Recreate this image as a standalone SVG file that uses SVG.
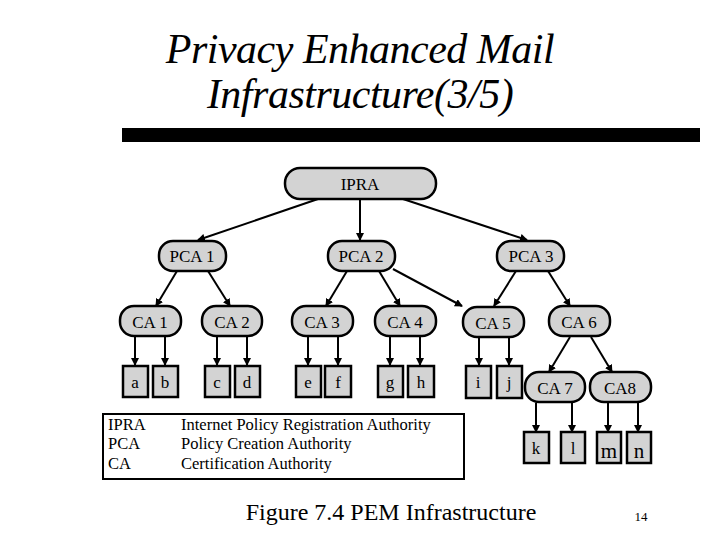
<svg xmlns="http://www.w3.org/2000/svg" width="720" height="540" viewBox="0 0 720 540">
<style>
text{font-family:"Liberation Serif","Times New Roman",serif;fill:#000}
.n rect{fill:#d3d3d3;stroke:#000;stroke-width:2.5}
.n text{font-size:17px;text-anchor:middle}
.c line{stroke:#000;stroke-width:2;marker-end:url(#ah)}
</style>
<defs><marker id="ah" markerWidth="8" markerHeight="8" refX="7" refY="4" orient="auto" markerUnits="userSpaceOnUse"><path d="M0,0 L8,4 L0,8 z" fill="#000"/></marker></defs>
<rect width="720" height="540" fill="#fff"/>
<text x="360" y="63" font-size="42" font-style="italic" text-anchor="middle" letter-spacing="-0.5">Privacy Enhanced Mail</text>
<text x="360" y="108" font-size="42" font-style="italic" text-anchor="middle" letter-spacing="-0.5">Infrastructure(3/5)</text>
<rect x="122" y="128" width="578" height="14" fill="#000"/>
<g class="c">
<line x1="318" y1="199" x2="198" y2="240"/>
<line x1="360" y1="199" x2="360" y2="240"/>
<line x1="403" y1="199" x2="527" y2="240"/>
<line x1="177" y1="271" x2="156" y2="306"/>
<line x1="208" y1="271" x2="230" y2="306"/>
<line x1="347" y1="271" x2="326" y2="306"/>
<line x1="379" y1="271" x2="400" y2="306"/>
<line x1="393" y1="269" x2="462" y2="306"/>
<line x1="516" y1="271" x2="494" y2="306"/>
<line x1="548" y1="271" x2="570" y2="306"/>
<line x1="135" y1="337" x2="135" y2="365"/>
<line x1="165" y1="337" x2="165" y2="365"/>
<line x1="217" y1="337" x2="217" y2="365"/>
<line x1="247" y1="337" x2="247" y2="365"/>
<line x1="308" y1="337" x2="308" y2="365"/>
<line x1="338" y1="337" x2="338" y2="365"/>
<line x1="390" y1="337" x2="390" y2="365"/>
<line x1="420" y1="337" x2="420" y2="365"/>
<line x1="479" y1="337" x2="479" y2="365"/>
<line x1="509" y1="337" x2="509" y2="365"/>
<line x1="570" y1="337" x2="549" y2="372"/>
<line x1="591" y1="337" x2="612" y2="372"/>
<line x1="536" y1="403" x2="536" y2="432"/>
<line x1="572" y1="403" x2="572" y2="432"/>
<line x1="608" y1="403" x2="608" y2="432"/>
<line x1="638" y1="403" x2="638" y2="432"/>
</g>
<g id="IPRA" class="n"><rect x="285" y="168" width="151" height="31" rx="15"/><text x="360" y="190">IPRA</text></g>
<g id="PCA1" class="n"><rect x="159" y="241" width="67" height="30" rx="14"/><text x="192" y="262">PCA 1</text></g>
<g id="PCA2" class="n"><rect x="328" y="241" width="67" height="30" rx="14"/><text x="361" y="262">PCA 2</text></g>
<g id="PCA3" class="n"><rect x="497" y="241" width="67" height="30" rx="14"/><text x="531" y="262">PCA 3</text></g>
<g id="CA1" class="n"><rect x="120" y="306" width="61" height="30" rx="14"/><text x="150" y="328">CA 1</text></g>
<g id="CA2" class="n"><rect x="202" y="306" width="60" height="30" rx="14"/><text x="232" y="328">CA 2</text></g>
<g id="CA3" class="n"><rect x="292" y="306" width="61" height="30" rx="14"/><text x="322" y="328">CA 3</text></g>
<g id="CA4" class="n"><rect x="375" y="306" width="61" height="30" rx="14"/><text x="405" y="328">CA 4</text></g>
<g id="CA5" class="n"><rect x="463" y="307" width="61" height="30" rx="14"/><text x="493" y="329">CA 5</text></g>
<g id="CA6" class="n"><rect x="549" y="306" width="61" height="30" rx="14"/><text x="579" y="328">CA 6</text></g>
<g id="CA7" class="n"><rect x="525" y="372" width="60" height="30" rx="14"/><text x="555" y="394">CA 7</text></g>
<g id="CA8" class="n"><rect x="590" y="372" width="61" height="30" rx="14"/><text x="620" y="394">CA8</text></g>
<g id="a" class="n"><rect x="123" y="366" width="25" height="31"/><text x="135" y="388">a</text></g>
<g id="b" class="n"><rect x="153" y="366" width="25" height="31"/><text x="165" y="388">b</text></g>
<g id="c" class="n"><rect x="205" y="366" width="25" height="31"/><text x="217" y="388">c</text></g>
<g id="d" class="n"><rect x="235" y="366" width="25" height="31"/><text x="247" y="388">d</text></g>
<g id="e" class="n"><rect x="296" y="366" width="25" height="31"/><text x="308" y="388">e</text></g>
<g id="f" class="n"><rect x="325" y="366" width="26" height="31"/><text x="338" y="388">f</text></g>
<g id="g" class="n"><rect x="378" y="366" width="25" height="31"/><text x="390" y="388">g</text></g>
<g id="h" class="n"><rect x="408" y="366" width="26" height="31"/><text x="421" y="388">h</text></g>
<g id="i" class="n"><rect x="466" y="366" width="25" height="32"/><text x="478" y="388">i</text></g>
<g id="j" class="n"><rect x="497" y="366" width="25" height="32"/><text x="509" y="388">j</text></g>
<g id="k" class="n"><rect x="524" y="432" width="25" height="31"/><text x="536" y="454">k</text></g>
<g id="l" class="n"><rect x="561" y="432" width="24" height="31"/><text x="573" y="454">l</text></g>
<g id="m" class="n"><rect x="597" y="432" width="24" height="31"/><text x="609" y="458" style="font-size:21px">m</text></g>
<g id="n" class="n"><rect x="627" y="432" width="24" height="31"/><text x="639" y="458" style="font-size:21px">n</text></g>
<g id="legend">
<rect x="103" y="414" width="361" height="65" fill="#fff" stroke="#000" stroke-width="2"/>
<g font-size="16.5">
<text x="108" y="430">IPRA</text><text x="181" y="430">Internet Policy Registration Authority</text>
<text x="108" y="449">PCA</text><text x="181" y="449">Policy Creation Authority</text>
<text x="108" y="469">CA</text><text x="181" y="469">Certification Authority</text>
</g></g>
<text x="391" y="520" font-size="24" text-anchor="middle">Figure 7.4 PEM Infrastructure</text>
<text x="641" y="521" font-size="13" text-anchor="middle">14</text>
</svg>
